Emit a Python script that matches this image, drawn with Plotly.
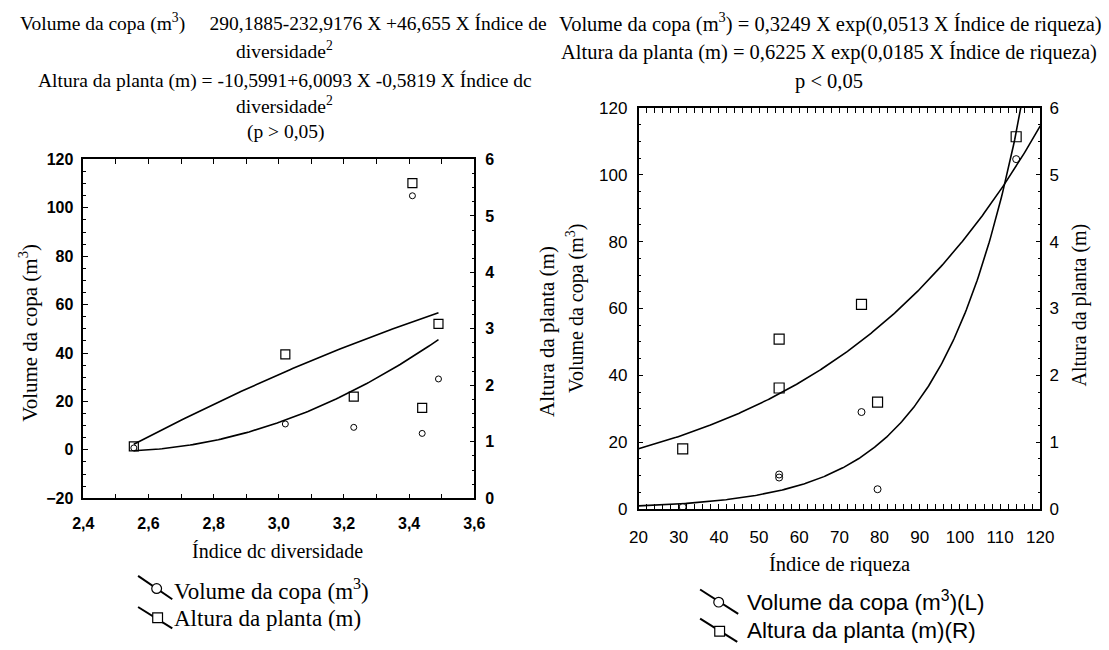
import numpy as np
import plotly.graph_objects as go

W, H = 1109, 650

# ---------------- data ----------------
# Left panel: diversity index
div_x = [2.555, 3.02, 3.23, 3.41, 3.44, 3.49]
div_volume = [0.8, 10.7, 9.3, 105.0, 6.8, 29.3]        # m3 (left axis)
div_height = [0.92, 2.55, 1.80, 5.58, 1.60, 3.09]      # m (right axis)

# Right panel: richness index
ric_x = [31, 55, 55, 75.5, 79.5, 114]
ric_volume = [0.6, 10.3, 9.4, 29.0, 5.9, 104.7]
ric_height = [0.90, 1.81, 2.54, 3.06, 1.60, 5.57]

# fitted equations shown in the titles
vol_div_coef = (290.1885, -232.9176, 46.655)
alt_div_coef = (-10.5991, 6.0093, -0.5819)
vol_ric_coef = (0.3249, 0.0513)
alt_ric_coef = (0.6225, 0.0185)

left_xticks = [2.4, 2.6, 2.8, 3.0, 3.2, 3.4, 3.6]
left_xticklabels = ["2,4", "2,6", "2,8", "3,0", "3,2", "3,4", "3,6"]

# ---------------- curves from the stated equations ----------------
xd = np.linspace(min(div_x), max(div_x), 120)
vol_div_fit = vol_div_coef[0] + vol_div_coef[1] * xd + vol_div_coef[2] * xd ** 2
alt_div_fit = alt_div_coef[0] + alt_div_coef[1] * xd + alt_div_coef[2] * xd ** 2
xr = np.linspace(20, 120, 300)
vol_ric_fit = vol_ric_coef[0] * np.exp(vol_ric_coef[1] * xr)
alt_ric_fit = alt_ric_coef[0] * np.exp(alt_ric_coef[1] * xr)

SERIF = "Liberation Serif"
SANS = "Liberation Sans"


def px(x):
    return x / W


def py(y):
    return 1 - y / H


fig = go.Figure()
line = dict(color="black", width=1.6)

# left panel
fig.add_trace(go.Scatter(x=xd, y=vol_div_fit, mode="lines", line=line, xaxis="x", yaxis="y", hoverinfo="skip"))
fig.add_trace(go.Scatter(x=xd, y=alt_div_fit, mode="lines", line=line, xaxis="x", yaxis="y2", hoverinfo="skip"))
fig.add_trace(go.Scatter(x=div_x, y=div_volume, mode="markers", xaxis="x", yaxis="y",
                         marker=dict(symbol="circle-open", size=6, color="black", line=dict(width=1))))
fig.add_trace(go.Scatter(x=div_x, y=div_height, mode="markers", xaxis="x", yaxis="y2",
                         marker=dict(symbol="square-open", size=9, color="black", line=dict(width=1.2))))

# right panel
fig.add_trace(go.Scatter(x=xr, y=vol_ric_fit, mode="lines", line=line, xaxis="x2", yaxis="y3", hoverinfo="skip"))
fig.add_trace(go.Scatter(x=xr, y=alt_ric_fit, mode="lines", line=line, xaxis="x2", yaxis="y4", hoverinfo="skip"))
fig.add_trace(go.Scatter(x=ric_x, y=ric_volume, mode="markers", xaxis="x2", yaxis="y3",
                         marker=dict(symbol="circle-open", size=7, color="black", line=dict(width=1))))
fig.add_trace(go.Scatter(x=ric_x, y=ric_height, mode="markers", xaxis="x2", yaxis="y4",
                         marker=dict(symbol="square-open", size=10, color="black", line=dict(width=1.2))))

L_dom_x = [px(74), px(474)]
L_dom_y = [py(504), py(155)]
R_dom_x = [px(642), px(1053)]
R_dom_y = [py(515), py(102)]

tickfontL = dict(family=SANS, size=16, color="black", weight="bold")
tickfontR = dict(family=SANS, size=17, color="black")
common = dict(showgrid=False, zeroline=False, showline=True, linecolor="black", linewidth=1.5,
              ticks="inside", ticklen=5, tickcolor="black", tickwidth=1.2)

fig.update_layout(
    width=W, height=H, margin=dict(l=0, r=0, t=0, b=0),
    paper_bgcolor="white", plot_bgcolor="white", showlegend=False,
    xaxis=dict(domain=L_dom_x, anchor="y", range=[2.4, 3.6], tickvals=left_xticks,
               ticktext=left_xticklabels, mirror="allticks", tickfont=tickfontL, ticklabelstandoff=10,
               minor=dict(ticks="inside", dtick=0.1, ticklen=3, tickcolor="black"), **common),
    yaxis=dict(domain=L_dom_y, anchor="x", range=[-20, 120], dtick=20, tickfont=tickfontL,
               ticklabelstandoff=5,
               minor=dict(ticks="inside", dtick=5, ticklen=3, tickcolor="black"), **common),
    yaxis2=dict(overlaying="y", anchor="x", side="right", range=[0, 6], dtick=1, tickfont=tickfontL,
                ticklabelstandoff=6,
                minor=dict(ticks="inside", dtick=0.25, ticklen=3, tickcolor="black"), **common),
    xaxis2=dict(domain=R_dom_x, anchor="y3", range=[20, 120], dtick=10, mirror="allticks",
                tickfont=tickfontR, ticklabelstandoff=12,
                minor=dict(ticks="inside", dtick=2, ticklen=3, tickcolor="black"), **common),
    yaxis3=dict(domain=R_dom_y, anchor="x2", range=[0, 120], dtick=20, tickfont=tickfontR,
                ticklabelstandoff=6,
                minor=dict(ticks="inside", dtick=5, ticklen=3, tickcolor="black"), **common),
    yaxis4=dict(overlaying="y3", anchor="x2", side="right", range=[0, 6], dtick=1, tickfont=tickfontR,
                ticklabelstandoff=4,
                minor=dict(ticks="inside", dtick=0.25, ticklen=3, tickcolor="black"), **common),
)

NB = "\u00a0"
ann = []


def text(x, y, s, size=17, family=SERIF, angle=0, xanchor="center"):
    ann.append(dict(x=px(x), y=py(y), xref="paper", yref="paper", text=s, showarrow=False,
                    xanchor=xanchor, yanchor="middle", textangle=angle,
                    font=dict(family=family, size=size, color="black")))


# left titles
text(279, 14, "Volume da copa (m<sup>3</sup>)" + NB * 5 + "290,1885-232,9176 X +46,655 X Índice de", 19.5)
text(280, 42, "diversidade<sup>2</sup>", 19.5)
text(280, 74, "Altura da planta (m) = -10,5991+6,0093 X -0,5819 X Índice dc", 19.5)
text(280, 99, "diversidade<sup>2</sup>", 19.5)
text(281, 127, "(p > 0,05)", 19.5)
# right titles
text(838, 14, "Volume da copa (m<sup>3</sup>) = 0,3249 X exp(0,0513 X Índice de riqueza)", 20.5)
text(837, 45, "Altura da planta (m) = 0,6225 X exp(0,0185 X Índice de riqueza)", 20.5)
text(837, 75, "p < 0,05", 20.5)

# axis titles
text(18, 334, "Volume da copa (m<sup>3</sup>)", 21, angle=-90)
text(549, 332, "Altura da planta (m)", 21, angle=-90)
text(273, 558, "Índice dc diversidade", 20)
text(578, 308, "Volume da copa (m<sup>3</sup>)", 20, angle=-90)
text(1093, 305, "Altura da planta (m)", 20, angle=-90)
text(848, 572, "Índice de riqueza", 20.5)

# legends
text(165, 598, "Volume da copa (m<sup>3</sup>)", 23, xanchor="left")
text(165, 628, "Altura da planta (m)", 23, xanchor="left")
text(751, 610, "Volume da copa (m<sup>3</sup>)(L)", 22.5, family=SANS, xanchor="left")
text(751, 640, "Altura da planta (m)(R)", 22.5, family=SANS, xanchor="left")

shapes = []


def seg(x0, y0, x1, y1):
    shapes.append(dict(type="line", xref="paper", yref="paper", x0=px(x0), y0=py(y0), x1=px(x1), y1=py(y1),
                       line=dict(color="black", width=2)))


def circ(cx, cy, r):
    shapes.append(dict(type="circle", xref="paper", yref="paper", x0=px(cx - r), x1=px(cx + r),
                       y0=py(cy + r), y1=py(cy - r), line=dict(color="black", width=1.2), fillcolor="white"))


def sq(cx, cy, r):
    shapes.append(dict(type="rect", xref="paper", yref="paper", x0=px(cx - r), x1=px(cx + r),
                       y0=py(cy + r), y1=py(cy - r), line=dict(color="black", width=1.2), fillcolor="white"))


seg(130, 584, 165, 608); circ(149, 597, 5)
seg(130, 616, 165, 638); sq(150, 627, 5)
seg(705, 598, 744, 623); circ(724, 611, 5)
seg(705, 628, 743, 652); sq(725, 641, 5)

fig.update_layout(annotations=ann, shapes=shapes)
fig.write_html("out.html")
